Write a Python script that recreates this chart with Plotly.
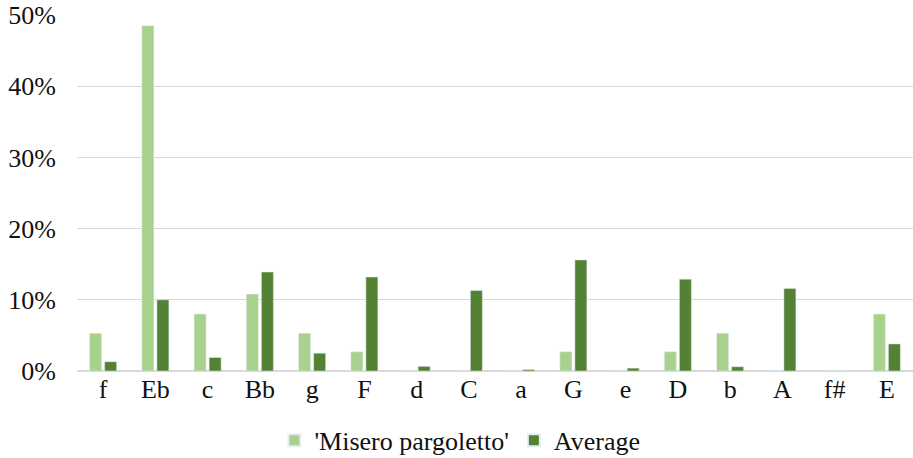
import plotly.graph_objects as go

keys = ["f", "Eb", "c", "Bb", "g", "F", "d", "C", "a", "G", "e", "D", "b", "A", "f#", "E"]
misero = [5.3, 48.5, 8.0, 10.8, 5.3, 2.7, 0, 0, 0, 2.7, 0, 2.7, 5.3, 0, 0, 8.0]
average = [1.3, 10.0, 1.9, 13.9, 2.5, 13.2, 0.65, 11.3, 0.2, 15.6, 0.4, 12.9, 0.6, 11.6, 0, 3.8]

misero_f = [v / 100 for v in misero]
average_f = [v / 100 for v in average]

fig = go.Figure()
fig.add_trace(go.Bar(x=keys, y=misero_f, name="'Misero pargoletto'", marker_color="#a9d18e"))
fig.add_trace(go.Bar(x=keys, y=average_f, name="Average", marker_color="#548235"))

font = dict(family="Liberation Serif, Times New Roman, serif", size=26, color="#111111")
fig.update_layout(
    width=913, height=458,
    margin=dict(l=77, r=0, t=15, b=87, autoexpand=False),
    paper_bgcolor="white", plot_bgcolor="white",
    font=font,
    barmode="group", bargap=0.425, bargroupgap=0.2,
    showlegend=True,
    legend=dict(orientation="h", x=0.458, xanchor="center", y=-0.195, yanchor="middle",
                font=font, itemwidth=30, traceorder="normal", tracegroupgap=0,
                itemsizing="constant"),
    xaxis=dict(showgrid=False, showline=False, ticks="", tickfont=font, automargin=False),
    yaxis=dict(range=[0, 0.5], dtick=0.1, tickformat=".0%", showgrid=True,
               gridcolor="#d9d9d9", gridwidth=1, zeroline=True, zerolinecolor="#d9d9d9",
               showline=False, ticks="", tickfont=font, ticklabelstandoff=20,
               automargin=False),
)
fig.write_html("out.html", config={"displayModeBar": False},
               post_script="document.body.style.margin='0px';")
